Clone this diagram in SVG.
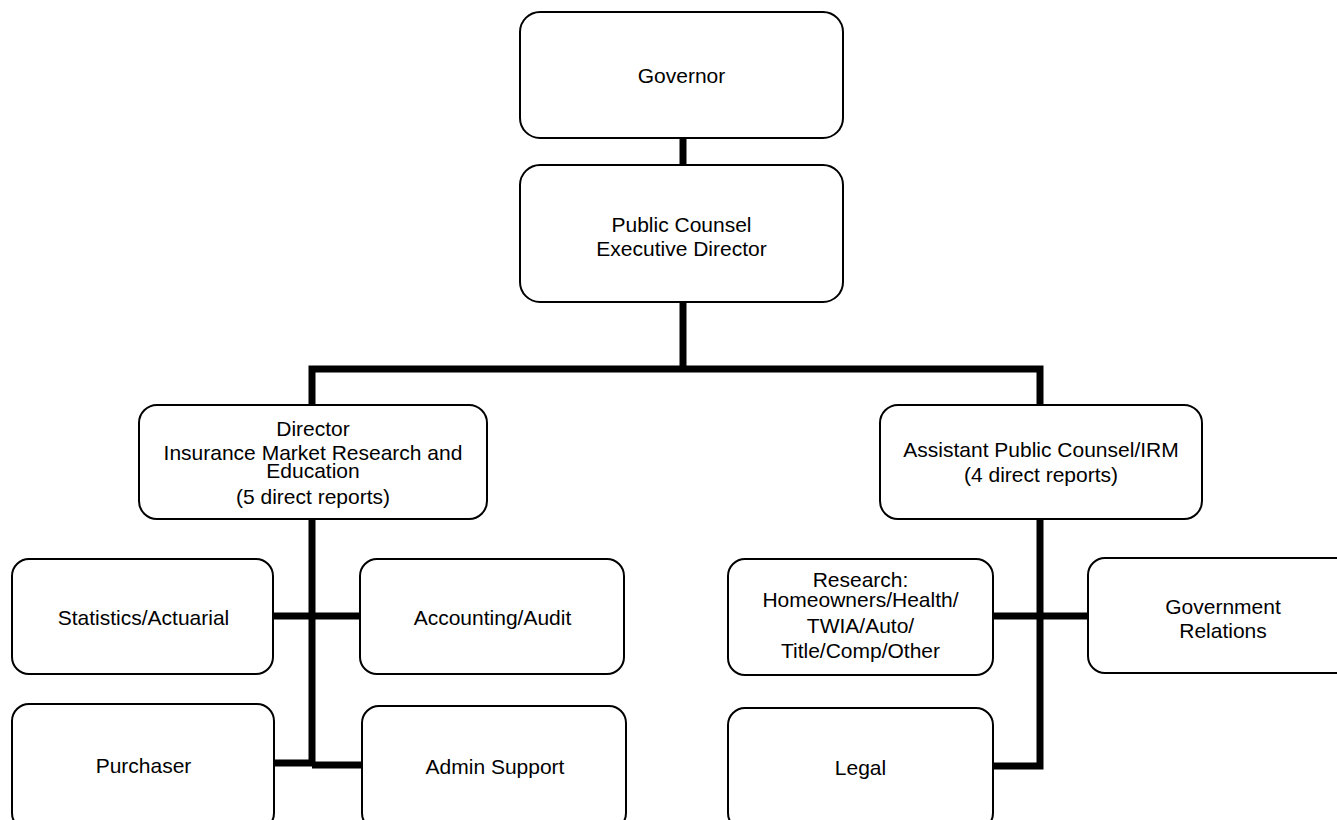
<svg xmlns="http://www.w3.org/2000/svg" width="1337" height="820" viewBox="0 0 1337 820">
<style>
.box{fill:#fff;stroke:#000;stroke-width:2}
.t{font-family:"Liberation Sans",Arial,sans-serif;font-size:21px;fill:#000;text-anchor:middle}
.c{fill:none;stroke:#000;stroke-width:7}
</style>
<rect width="1337" height="820" fill="#fff"/>
<g id="connectors">
<line class="c" x1="683" y1="138" x2="683" y2="165"/>
<line class="c" x1="683" y1="302" x2="683" y2="369"/>
<polyline class="c" points="312,405 312,369 1040,369 1040,405"/>
<line class="c" x1="312" y1="519" x2="312" y2="766"/>
<line class="c" x1="273" y1="616" x2="360" y2="616"/>
<line class="c" x1="273" y1="763" x2="312" y2="763"/>
<line class="c" x1="312" y1="765" x2="362" y2="765"/>
<polyline class="c" points="1040,519 1040,766 993,766"/>
<line class="c" x1="993" y1="616" x2="1088" y2="616"/>
</g>
<g id="governor">
<rect class="box" x="520" y="12" width="323" height="126" rx="20"/>
<text class="t" x="681.5" y="83">Governor</text>
</g>
<g id="public-counsel">
<rect class="box" x="520" y="165" width="323" height="137" rx="20"/>
<text class="t" x="681.5" y="232">Public Counsel</text>
<text class="t" x="681.5" y="256">Executive Director</text>
</g>
<g id="director">
<rect class="box" x="139" y="405" width="348" height="114" rx="18"/>
<text class="t" x="313" y="436">Director</text>
<text class="t" x="313" y="460">Insurance Market Research and</text>
<text class="t" x="313" y="478">Education</text>
<text class="t" x="313" y="504">(5 direct reports)</text>
</g>
<g id="assistant">
<rect class="box" x="880" y="405" width="322" height="114" rx="18"/>
<text class="t" x="1041" y="457">Assistant Public Counsel/IRM</text>
<text class="t" x="1041" y="482">(4 direct reports)</text>
</g>
<g id="statistics">
<rect class="box" x="12" y="559" width="261" height="115" rx="17"/>
<text class="t" x="143.5" y="625">Statistics/Actuarial</text>
</g>
<g id="accounting">
<rect class="box" x="360" y="559" width="264" height="115" rx="17"/>
<text class="t" x="492.5" y="625">Accounting/Audit</text>
</g>
<g id="purchaser">
<rect class="box" x="12" y="704" width="262" height="126" rx="17"/>
<text class="t" x="143.5" y="773">Purchaser</text>
</g>
<g id="admin-support">
<rect class="box" x="362" y="706" width="264" height="124" rx="17"/>
<text class="t" x="495" y="774">Admin Support</text>
</g>
<g id="research">
<rect class="box" x="728" y="559" width="265" height="116" rx="17"/>
<text class="t" x="860.5" y="587">Research:</text>
<text class="t" x="860.5" y="607">Homeowners/Health/</text>
<text class="t" x="860.5" y="633">TWIA/Auto/</text>
<text class="t" x="860.5" y="658">Title/Comp/Other</text>
</g>
<g id="government-relations">
<rect class="box" x="1088" y="558" width="270" height="115" rx="17"/>
<text class="t" x="1223" y="614">Government</text>
<text class="t" x="1223" y="638">Relations</text>
</g>
<g id="legal">
<rect class="box" x="728" y="708" width="265" height="122" rx="17"/>
<text class="t" x="860.5" y="775">Legal</text>
</g>
</svg>
